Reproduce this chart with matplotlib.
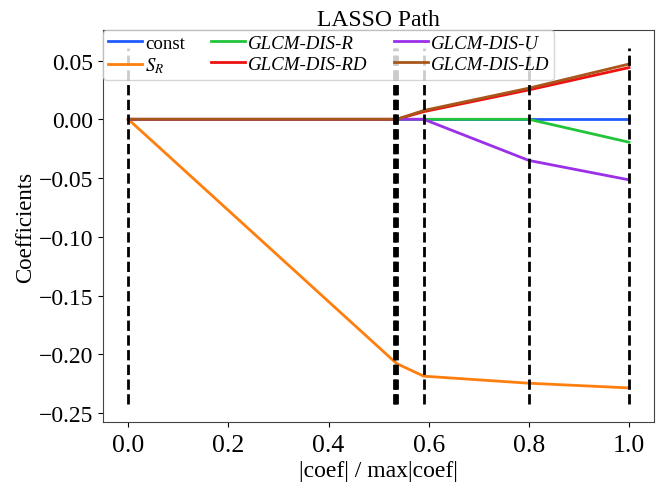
import matplotlib.pyplot as plt
import numpy as np

plt.rcParams["font.family"] = ["Liberation Serif", "DejaVu Serif"]
plt.rcParams["mathtext.fontset"] = "stix"

# regularisation path: normalised |coef| at each knot
xx = [0.0, 0.530, 0.533, 0.536, 0.59, 0.80, 1.0]

labels = [
    "const",
    "$S_R$",
    "GLCM-DIS-R",
    "GLCM-DIS-RD",
    "GLCM-DIS-U",
    "GLCM-DIS-LD",
]
coef_const = [0.0, 0.0, 0.0, 0.0, 0.0, 0.0, 0.0]
coef_sr = [0.0, -0.2055, -0.2066, -0.2078, -0.2185, -0.2245, -0.2285]
coef_r = [0.0, 0.0, 0.0, 0.0, 0.0, 0.0, -0.0195]
coef_rd = [0.0, 0.0, 0.0, 0.0, 0.0065, 0.0250, 0.0440]
coef_u = [0.0, 0.0, 0.0, 0.0, 0.0, -0.0350, -0.0515]
coef_ld = [0.0, 0.0, 0.0, 0.0, 0.0075, 0.0265, 0.0470]

colors = ["#1f5bff", "#ff7f0e", "#22c43a", "#ee1111", "#9b30e8", "#a8561a"]
italic = [False, False, True, True, True, True]

fig, ax = plt.subplots(figsize=(6.62, 4.85), dpi=100)
fig.subplots_adjust(left=0.156, right=0.988, top=0.936, bottom=0.128)

for coefs, label, color in zip(
    [coef_const, coef_sr, coef_r, coef_rd, coef_u, coef_ld], labels, colors
):
    ax.plot(xx, coefs, color=color, lw=2, label=label)

ymin, ymax = ax.get_ylim()
ax.vlines(xx, ymin, ymax, color="black", linestyle="dashed", lw=2)

ax.set_title("LASSO Path", fontsize=17, pad=2)
ax.set_xlabel("|coef| / max|coef|", fontsize=17, labelpad=3)
ax.set_ylabel("Coefficients", fontsize=16.5, labelpad=2)
ax.set_xticks([0.0, 0.2, 0.4, 0.6, 0.8, 1.0])
ax.set_yticks([0.05, 0.0, -0.05, -0.10, -0.15, -0.20, -0.25])
ax.tick_params(axis="x", labelsize=18.5, pad=5)
ax.tick_params(axis="y", labelsize=17)
for spine in ax.spines.values():
    spine.set_color("#444444")

leg = ax.legend(
    loc="upper left",
    ncol=3,
    fontsize=13.6,
    borderaxespad=0.0,
    handlelength=1.8,
    handletextpad=0.15,
    columnspacing=1.4,
    labelspacing=0.2,
    borderpad=0.25,
)
for text, it in zip(leg.get_texts(), italic):
    if it:
        text.set_style("italic")

plt.savefig("out.png", dpi=100)
plt.close()
